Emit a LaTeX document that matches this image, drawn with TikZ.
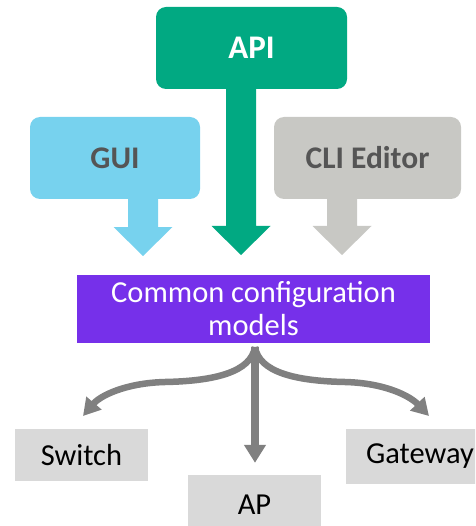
\documentclass[tikz,border=0pt]{standalone}
\usepackage{fontspec}
\setmainfont{Carlito}
\usetikzlibrary{arrows.meta,calc}
\definecolor{apigreen}{HTML}{01A982}
\definecolor{guiblue}{HTML}{77D2EE}
\definecolor{cligray}{HTML}{C8C8C4}
\definecolor{darktext}{HTML}{555555}
\definecolor{cfgpurple}{HTML}{7630EA}
\definecolor{arrowgray}{HTML}{808080}
\definecolor{devgray}{HTML}{D9D9D9}
\newcommand{\blockarrow}[3]{%
  \fill[#1] ($(#2)+(-15,0)$) -- ($(#3)+(-15,-29)$) -- ($(#3)+(-29.5,-29)$) -- (#3)
    -- ($(#3)+(29.5,-29)$) -- ($(#3)+(15,-29)$) -- ($(#2)+(15,0)$) -- cycle;}
\begin{document}
\begin{tikzpicture}[x=1pt,y=-1pt,
  srcbox/.style={rounded corners=10pt, inner sep=0pt, minimum height=82pt,
    font=\fontsize{31.5}{37}\selectfont\bfseries},
  devbox/.style={fill=devgray, inner sep=0pt, text=black,
    font=\fontsize{30.5}{35}\selectfont},
  garrow/.style={draw=arrowgray, line width=6.5pt,
    -{Triangle[length=17pt,width=19pt]}}]
\useasboundingbox (0,0) rectangle (475,526);
\clip (0,0) rectangle (475,526);

% source boxes
\node[srcbox, fill=apigreen, text=white, minimum width=191pt,
  font=\fontsize{33}{38}\selectfont\bfseries] (api) at (251.5,48) {API};
\node[srcbox, fill=guiblue, text=darktext, minimum width=170pt] (gui) at (115,158) {GUI};
\node[srcbox, fill=cligray, text=darktext, minimum width=187pt] (cli) at (367.5,158) {CLI Editor};

% block arrows
\coordinate (guiA) at (143,190);
\coordinate (guiT) at (143,256);
\coordinate (apiA) at (241,80);
\coordinate (apiT) at (241,255);
\coordinate (cliA) at (342,190);
\coordinate (cliT) at (342,255);
\blockarrow{guiblue}{guiA}{guiT}
\blockarrow{apigreen}{apiA}{apiT}
\blockarrow{cligray}{cliA}{cliT}

% common models
\node[fill=cfgpurple, text=white, inner sep=0pt, minimum width=353pt, minimum height=68pt,
  align=center, font=\fontsize{30.5}{33}\selectfont] (cfg) at (253.5,309)
  {Common configuration\\models};

% devices
\node[devbox, minimum width=133pt, minimum height=52pt] (sw) at (81.5,455) {Switch};
\node[devbox, minimum width=133pt, minimum height=60pt] (ap) at (254.5,505) {AP};
\node[devbox, minimum width=148pt, minimum height=55pt] (gw) at (420,456.5) {Gateway};

% distribution arrows
\coordinate (fork) at (255,347);
\coordinate (swT) at (83,416);
\coordinate (gwT) at (429,416);
\draw[garrow] (fork) .. controls (251,372) and (215,381) .. (165,382)
  .. controls (125,383) and (100,396) .. (swT);
\draw[garrow] (fork) .. controls (259,372) and (295,381) .. (345,382)
  .. controls (385,383) and (410,396) .. (gwT);
\draw[garrow, line width=8pt, -{Triangle[length=18pt,width=21pt]}, shorten >=12pt]
  (fork) -- (fork |- ap.north);
\end{tikzpicture}
\end{document}
